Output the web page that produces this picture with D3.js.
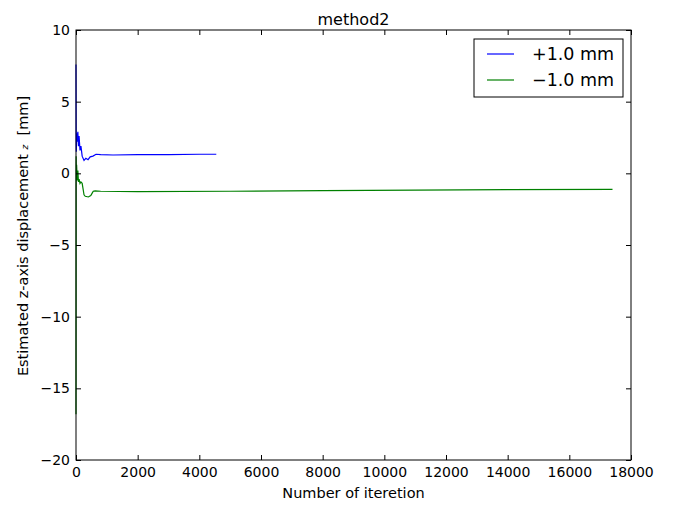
<!DOCTYPE html>
<html>
<head>
<meta charset="utf-8">
<script src="https://cdn.jsdelivr.net/npm/d3@7"></script>
<style>
  body { margin: 0; background: #fff; }
  text { font-family: "DejaVu Sans", sans-serif; fill: #000; }
</style>
</head>
<body>
<svg width="674" height="505"></svg>
<script>
/* ===============================
   Data
   =============================== */
let xTicks = [0, 2000, 4000, 6000, 8000, 10000, 12000, 14000, 16000, 18000];
let yTicks = [10, 5, 0, -5, -10, -15, -20];

let plusIter = [0, 5, 10, 20, 40, 60, 80, 100, 130, 160, 200, 260, 320, 390, 460, 550, 650, 800, 1200, 2000, 3000, 4000, 4550];
let plusVal = [7.6, 2.9, 1.5, 2.8, 2.2, 2.9, 1.9, 2.6, 1.6, 1.9, 1.2, 0.9, 1.05, 0.95, 1.15, 1.2, 1.33, 1.3, 1.28, 1.3, 1.3, 1.33, 1.33];

let minusIter = [0, 5, 10, 20, 40, 60, 80, 100, 130, 160, 200, 260, 300, 400, 480, 520, 560, 620, 800, 2000, 5000, 8000, 11000, 14000, 17400];
let minusVal = [-16.8, 1.2, -0.3, 0.6, -0.5, 0.2, -0.6, -0.4, -0.7, -0.6, -0.7, -1.5, -1.6, -1.65, -1.55, -1.4, -1.25, -1.22, -1.25, -1.27, -1.25, -1.2, -1.17, -1.14, -1.12];

let seriesNames = ["+1.0 mm", "\u22121.0 mm"];
let seriesColors = ["#0000ff", "#008000"];

/* ===============================
   Layout
   =============================== */
let plotLeft = 76, plotRight = 631, plotTop = 30, plotBottom = 460;
let svg = d3.select("svg");

let x = d3.scaleLinear().domain([0, 18000]).range([plotLeft, plotRight]);
let y = d3.scaleLinear().domain([-20, 10]).range([plotBottom, plotTop]);

/* ===============================
   Lines
   =============================== */
let line = d3.line()
    .x(d => x(d[0]))
    .y(d => y(d[1]));

let plot = svg.append("g");

plot.append("path")
    .datum(d3.zip(minusIter, minusVal))
    .attr("d", line)
    .attr("fill", "none")
    .attr("stroke", seriesColors[1])
    .attr("stroke-width", 1.2);

plot.append("path")
    .datum(d3.zip(plusIter, plusVal))
    .attr("d", line)
    .attr("fill", "none")
    .attr("stroke", seriesColors[0])
    .attr("stroke-width", 1.2);

/* ===============================
   Axes (ticks pointing inward, all four sides)
   =============================== */
function styleAxis(g) {
    g.select(".domain").remove();
    g.selectAll(".tick line").attr("stroke", "#000");
    g.selectAll(".tick text").style("font-size", "14px");
}

svg.append("g")
    .attr("transform", `translate(0,${plotBottom})`)
    .call(d3.axisBottom(x).tickValues(xTicks).tickSize(-5).tickPadding(7).tickFormat(d3.format("d")))
    .call(styleAxis);

svg.append("g")
    .attr("transform", `translate(0,${plotTop})`)
    .call(d3.axisTop(x).tickValues(xTicks).tickSize(-5).tickFormat(""))
    .call(styleAxis);

svg.append("g")
    .attr("transform", `translate(${plotLeft},0)`)
    .call(d3.axisLeft(y).tickValues(yTicks).tickSize(-5).tickPadding(6).tickFormat(d => d < 0 ? "\u2212" + Math.abs(d) : d))
    .call(styleAxis);

svg.append("g")
    .attr("transform", `translate(${plotRight},0)`)
    .call(d3.axisRight(y).tickValues(yTicks).tickSize(-5).tickFormat(""))
    .call(styleAxis);

svg.append("rect")
    .attr("x", plotLeft)
    .attr("y", plotTop)
    .attr("width", plotRight - plotLeft)
    .attr("height", plotBottom - plotTop)
    .attr("fill", "none")
    .attr("stroke", "#000")
    .attr("stroke-width", 1);

/* ===============================
   Title and axis labels
   =============================== */
svg.append("text")
    .attr("x", (plotLeft + plotRight) / 2)
    .attr("y", 25)
    .attr("text-anchor", "middle")
    .style("font-size", "16px")
    .text("method2");

svg.append("text")
    .attr("x", (plotLeft + plotRight) / 2)
    .attr("y", 498)
    .attr("text-anchor", "middle")
    .style("font-size", "14.5px")
    .text("Number of iteretion");

let yLabel = svg.append("text")
    .attr("transform", `translate(28,236) rotate(-90)`)
    .attr("text-anchor", "middle")
    .style("font-size", "14.5px");
yLabel.append("tspan").text("Estimated z-axis displacement ");
yLabel.append("tspan").style("font-style", "italic").style("font-size", "9px").text("z");
yLabel.append("tspan").text("\u00a0\u00a0[mm]");

/* ===============================
   Legend
   =============================== */
let legend = svg.append("g").attr("transform", "translate(474,39)");

legend.append("rect")
    .attr("width", 149)
    .attr("height", 58)
    .attr("fill", "#fff")
    .attr("stroke", "#000")
    .attr("stroke-width", 1);

seriesNames.forEach((name, i) => {
    legend.append("line")
        .attr("x1", 13)
        .attr("x2", 40)
        .attr("y1", 15 + i * 26)
        .attr("y2", 15 + i * 26)
        .attr("stroke", seriesColors[i])
        .attr("stroke-width", 1.2);
    legend.append("text")
        .attr("x", 58)
        .attr("y", 21 + i * 26)
        .style("font-size", "17.5px")
        .text(name);
});
</script>
</body>
</html>
